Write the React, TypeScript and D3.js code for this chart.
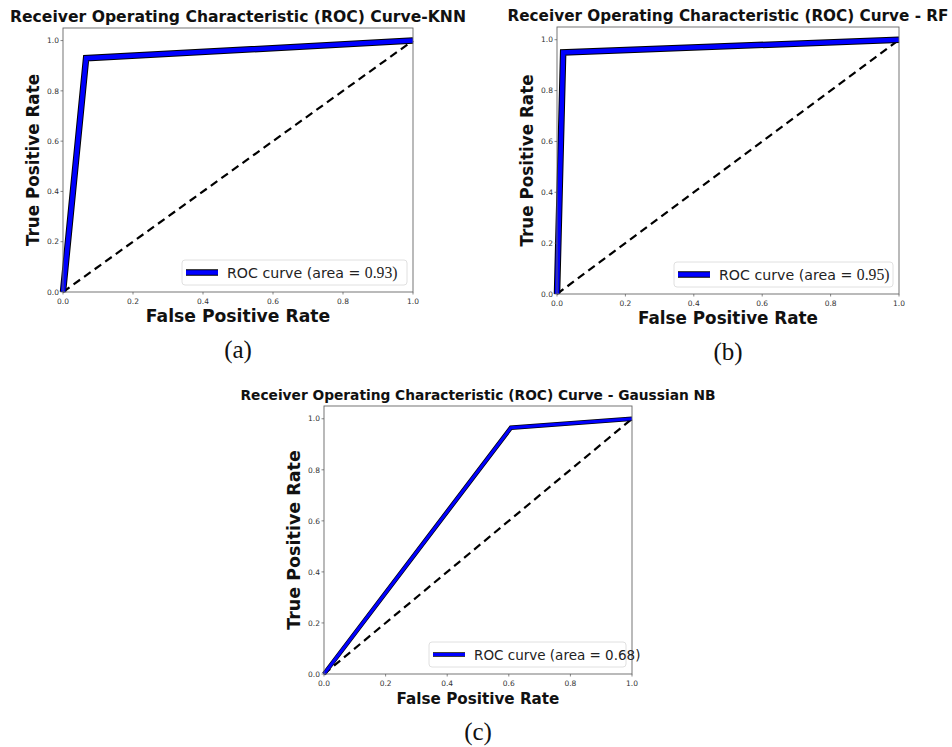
import React from 'react';
import * as d3 from 'd3';

// ROC points
const fprKNN = [0, 0.066, 1];
const tprKNN = [0, 0.93, 1];
const fprRF = [0, 0.018, 1];
const tprRF = [0, 0.95, 1];
const fprGNB = [0, 0.607, 1];
const tprGNB = [0, 0.965, 1];

const chanceLine = [0, 1];
const tickValues = [0, 0.2, 0.4, 0.6, 0.8, 1.0];

const titles = [
  'Receiver Operating Characteristic (ROC) Curve-KNN',
  'Receiver Operating Characteristic (ROC) Curve - RF',
  'Receiver Operating Characteristic (ROC) Curve - Gaussian NB',
];
const areas = ['0.93', '0.95', '0.68'];
const captions = ['(a)', '(b)', '(c)'];

const FONT = '"DejaVu Sans", sans-serif';
const SERIF = '"Liberation Serif", "Times New Roman", serif';

interface PanelProps {
  fpr: number[];
  tpr: number[];
  title: string;
  area: string;
  caption: string;
  box: { left: number; right: number; top: number; bottom: number };
  titleSize: number;
  titleW: number;
  labelSize: number;
  yLabelSize: number;
  legendSize: number;
  legendW: number;
  serifArea: boolean;
  outline: number;
  inner: number;
}

const Panel: React.FC<PanelProps> = (p) => {
  const { left, right, top, bottom } = p.box;
  const x = d3.scaleLinear().domain([0, 1]).range([left, right]);
  const y = d3.scaleLinear().domain([0, 1.05]).range([bottom, top]);
  const line = d3.line<number>()
    .x((_, i) => x(p.fpr[i]))
    .y((d) => y(d));
  const path = line(p.tpr) || '';
  const diag = d3.line<number>().x((_, i) => x(chanceLine[i])).y((d) => y(d))(chanceLine) || '';
  const cx = (left + right) / 2;
  const cy = (top + bottom) / 2;

  const legR = right - 6;
  const legB = bottom - 7;
  const legL = legR - p.legendW;
  const legT = legB - 25;
  const legMid = (legT + legB) / 2;

  return (
    <g>
      <text
        x={cx}
        y={top - 6}
        textAnchor="middle"
        fontFamily={FONT}
        fontWeight="bold"
        fontSize={p.titleSize}
        fill="#111"
        textLength={p.titleW}
        lengthAdjust="spacingAndGlyphs"
      >
        {p.title}
      </text>

      {/* chance diagonal */}
      <path d={diag} fill="none" stroke="#000" strokeWidth={2.2} strokeDasharray="8,5" />

      {/* ROC curve: blue with black outline */}
      <path d={path} fill="none" stroke="#000" strokeWidth={p.outline} strokeLinejoin="miter" />
      <path d={path} fill="none" stroke="#0000ff" strokeWidth={p.inner} strokeLinejoin="miter" />

      {/* frame */}
      <rect x={left} y={top} width={right - left} height={bottom - top} fill="none" stroke="#666" strokeWidth={0.9} />

      {/* ticks */}
      {tickValues.map((t) => (
        <g key={'x' + t}>
          <line x1={x(t)} x2={x(t)} y1={bottom} y2={bottom + 2.5} stroke="#555" strokeWidth={0.7} />
          <text x={x(t)} y={bottom + 12} textAnchor="middle" fontFamily={FONT} fontSize={7.5} fill="#333">
            {t.toFixed(1)}
          </text>
        </g>
      ))}
      {tickValues.map((t) => (
        <g key={'y' + t}>
          <line x1={left - 2.5} x2={left} y1={y(t)} y2={y(t)} stroke="#555" strokeWidth={0.7} />
          <text x={left - 4} y={y(t) + 2.7} textAnchor="end" fontFamily={FONT} fontSize={7.5} fill="#333">
            {t.toFixed(1)}
          </text>
        </g>
      ))}

      {/* axis labels */}
      <text x={cx} y={bottom + 30} textAnchor="middle" fontFamily={FONT} fontWeight="bold" fontSize={p.labelSize} fill="#111">
        False Positive Rate
      </text>
      <text
        transform={`translate(${left - 24},${cy}) rotate(-90)`}
        textAnchor="middle"
        fontFamily={FONT}
        fontWeight="bold"
        fontSize={p.yLabelSize}
        fill="#111"
      >
        True Positive Rate
      </text>

      {/* legend */}
      <rect x={legL} y={legT} width={p.legendW} height={25} rx={3} fill="#fff" fillOpacity={0.85} stroke="#ddd" strokeWidth={0.9} />
      <line x1={legL + 4} x2={legL + 36} y1={legMid} y2={legMid} stroke="#000" strokeWidth={p.outline} />
      <line x1={legL + 4} x2={legL + 36} y1={legMid} y2={legMid} stroke="#0000ff" strokeWidth={p.inner} />
      <text x={legL + 45} y={legMid + 5} fontFamily={FONT} fontSize={p.legendSize} fill="#222">
        {'ROC curve (area = '}
        {p.serifArea ? (
          <tspan fontFamily={SERIF} fontSize={p.legendSize + 1.5}>{p.area + ')'}</tspan>
        ) : (
          <tspan>{p.area + ')'}</tspan>
        )}
      </text>

      {/* caption */}
      <text x={cx} y={bottom + 66} textAnchor="middle" fontFamily={SERIF} fontSize={25} fill="#111">
        {p.caption}
      </text>
    </g>
  );
};

const App: React.FC = () => {
  return (
    <div style={{ position: 'absolute', left: 0, top: 0 }}>
      <svg width={952} height={747} style={{ display: 'block', background: '#fff' }}>
        <Panel
          fpr={fprKNN} tpr={tprKNN} title={titles[0]} area={areas[0]} caption={captions[0]}
          box={{ left: 63, right: 413, top: 28, bottom: 292 }}
          titleSize={15.7} titleW={456} labelSize={17.2} yLabelSize={16.8} legendSize={14.2} legendW={225} serifArea
          outline={6.5} inner={4.5}
        />
        <Panel
          fpr={fprRF} tpr={tprRF} title={titles[1]} area={areas[1]} caption={captions[1]}
          box={{ left: 557, right: 899, top: 27, bottom: 294 }}
          titleSize={15.2} titleW={441} labelSize={16.8} yLabelSize={16.8} legendSize={14.2} legendW={219} serifArea
          outline={6.5} inner={4.5}
        />
        <Panel
          fpr={fprGNB} tpr={tprGNB} title={titles[2]} area={areas[2]} caption={captions[2]}
          box={{ left: 324, right: 632, top: 406, bottom: 674 }}
          titleSize={13.8} titleW={475} labelSize={15.2} yLabelSize={17.5} legendSize={13.5} legendW={197} serifArea={false}
          outline={4.5} inner={3}
        />
      </svg>
    </div>
  );
};

export default App;
